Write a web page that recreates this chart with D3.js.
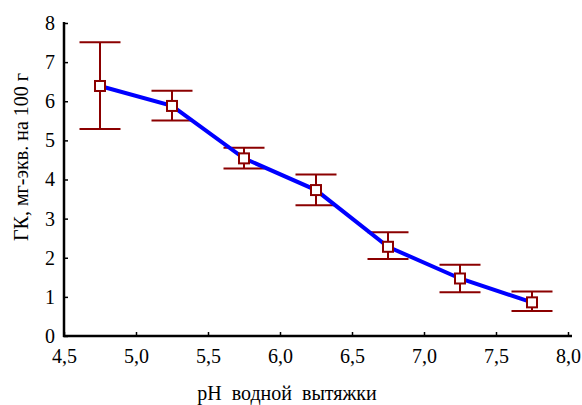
<!DOCTYPE html>
<html lang="en">
<head>
  <meta charset="UTF-8">
  <title>GK vs pH</title>
  <style>
    body { margin: 0; background: #fff; font-family: 'Liberation Serif', serif; }
    svg { display: block; }
    svg text { font-family: 'Liberation Serif', serif !important; }
    .axis path, .axis line { stroke: #000; }
  </style>
</head>
<body>
  <svg id="chart" width="582" height="405" style="font-family:'Liberation Serif', serif"></svg>
  <script src="https://d3js.org/d3.v7.min.js"></script>
  <script>
    // data
    const ph = [4.75, 5.25, 5.75, 6.25, 6.75, 7.25, 7.75];
    const gk = [6.39, 5.88, 4.54, 3.73, 2.28, 1.47, 0.86];
    const gkHigh = [7.51, 6.27, 4.81, 4.13, 2.65, 1.82, 1.14];
    const gkLow = [5.29, 5.51, 4.28, 3.34, 1.97, 1.12, 0.64];
    const xTicks = [4.5, 5.0, 5.5, 6.0, 6.5, 7.0, 7.5, 8.0];
    const yTicks = [0, 1, 2, 3, 4, 5, 6, 7, 8];

    (function () {
      const left = 64, right = 568, top = 23, bottom = 336;
      const serif = 'Liberation Serif';

      const svg = d3.select('#chart');

      const x = d3.scaleLinear().domain([4.5, 8.0]).range([left, right]);
      const y = d3.scaleLinear().domain([0, 8]).range([bottom, top]);

      const fmt = d => d3.format('.1f')(d).replace('.', ',');

      // x axis, ticks pointing inward
      const gx = svg.append('g').attr('class', 'axis')
        .attr('transform', `translate(0,${bottom})`)
        .call(d3.axisBottom(x).tickValues(xTicks).tickSize(-4).tickPadding(10).tickFormat(fmt));
      gx.attr('font-family', serif).attr('font-size', 20);
      gx.select('.domain').attr('d', `M${left - 1},0H${right + 4}`).attr('stroke-width', 2.5);
      gx.selectAll('.tick line').attr('stroke-width', 1.5);
      gx.selectAll('.tick text').attr('dy', '0.85em').attr('fill', '#000');

      // y axis
      const gy = svg.append('g').attr('class', 'axis')
        .attr('transform', `translate(${left},0)`)
        .call(d3.axisLeft(y).tickValues(yTicks).tickSize(-4).tickPadding(9));
      gy.attr('font-family', serif).attr('font-size', 20);
      gy.select('.domain').attr('d', `M0,${top - 1}V${bottom + 1}`).attr('stroke-width', 2.5);
      gy.selectAll('.tick line').attr('stroke-width', 1.5);
      gy.selectAll('.tick text').attr('fill', '#000');

      // axis titles
      svg.append('text')
        .attr('x', 287).attr('y', 400)
        .attr('text-anchor', 'middle')
        .attr('font-family', serif)
        .attr('font-size', 20)
        .style('white-space', 'pre')
        .text('pH  водной  вытяжки');

      svg.append('text')
        .attr('transform', 'translate(28,157) rotate(-90)')
        .attr('text-anchor', 'middle')
        .attr('font-family', serif)
        .attr('font-size', 20)
        .text('ГК, мг-экв. на 100 г');

      const rows = ph.map((p, i) => ({ x: p, y: gk[i], hi: gkHigh[i], lo: gkLow[i] }));
      const red = '#8b0000';
      const cap = 20.5;

      // error bars
      const eb = svg.append('g').attr('stroke', red).attr('stroke-width', 2).attr('fill', 'none');
      eb.selectAll('.whisker').data(rows).enter().append('line')
        .attr('x1', d => x(d.x)).attr('x2', d => x(d.x))
        .attr('y1', d => y(d.hi)).attr('y2', d => y(d.lo));
      eb.selectAll('.cap-hi').data(rows).enter().append('line')
        .attr('x1', d => x(d.x) - cap).attr('x2', d => x(d.x) + cap)
        .attr('y1', d => y(d.hi)).attr('y2', d => y(d.hi));
      eb.selectAll('.cap-lo').data(rows).enter().append('line')
        .attr('x1', d => x(d.x) - cap).attr('x2', d => x(d.x) + cap)
        .attr('y1', d => y(d.lo)).attr('y2', d => y(d.lo));

      // line
      svg.append('path')
        .datum(rows)
        .attr('fill', 'none')
        .attr('stroke', '#0000ff')
        .attr('stroke-width', 4)
        .attr('d', d3.line().x(d => x(d.x)).y(d => y(d.y)));

      // markers
      svg.append('g').selectAll('rect').data(rows).enter().append('rect')
        .attr('x', d => x(d.x) - 5).attr('y', d => y(d.y) - 5)
        .attr('width', 10).attr('height', 10)
        .attr('fill', '#fff').attr('stroke', red).attr('stroke-width', 2);
    })();
  </script>
</body>
</html>
